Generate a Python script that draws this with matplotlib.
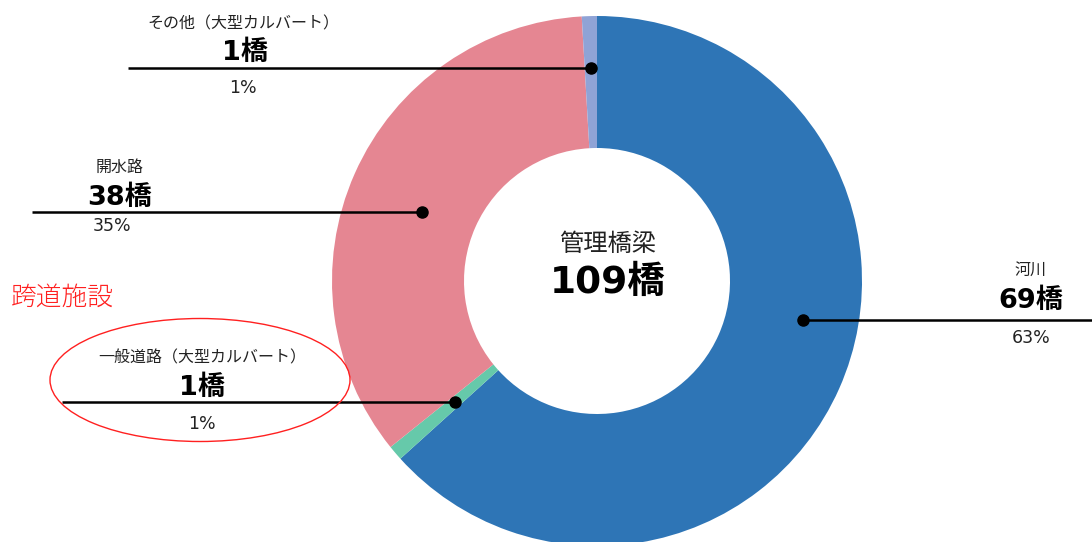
import numpy as np
import matplotlib
matplotlib.use("Agg")
import matplotlib.pyplot as plt
from matplotlib.patches import Ellipse

plt.rcParams['font.family'] = ['Noto Sans CJK JP', 'DejaVu Sans']
NUM_FONT = ['DejaVu Sans', 'Noto Sans CJK JP']

# ---- data ----
categories = ['河川', '一般道路（大型カルバート）', '開水路', 'その他（大型カルバート）']
counts = [69, 1, 38, 1]
percents = ['63%', '1%', '35%', '1%']
total_label = '管理橋梁'
total_unit = '橋'
colors = ['#2E75B6', '#66C9AA', '#E58692', '#8FA3D6']

W, H = 1092, 542
fig = plt.figure(figsize=(W / 100, H / 100), dpi=100)
ax = fig.add_axes([0, 0, 1, 1])
ax.set_xlim(0, W)
ax.set_ylim(0, H)
ax.set_aspect('equal')
ax.axis('off')

def py(y):  # pixel row -> data y
    return H - y

cx, cy = 597, py(281)
R, r_in = 265, 133

wedges, _ = ax.pie(counts, colors=colors, startangle=90, counterclock=False,
                   radius=R, center=(cx, cy),
                   wedgeprops=dict(width=R - r_in, linewidth=0))
ax.set_xlim(0, W)
ax.set_ylim(0, H)

# label layout: (dot angle offset deg, dot radius, line end x, text center x, text rows y)
layout = [
    dict(off=13.2, rad=210, lx=W + 5, tx=1031, ty=(270, 301, 338)),
    dict(off=0.0, rad=187, lx=62, tx=202, ty=(358, 388, 424)),
    dict(off=2.5, rad=188, lx=32, tx=(120, 120, 112), ty=(167, 198, 226)),
    dict(off=0.0, rad=213, lx=128, tx=(243, 245, 243), ty=(24, 53, 88)),
]

for w, cat, n, pct, lay in zip(wedges, categories, counts, percents, layout):
    mid = (w.theta1 + w.theta2) / 2 + lay['off']
    a = np.deg2rad(mid)
    dx = cx + lay['rad'] * np.cos(a)
    dy = cy + lay['rad'] * np.sin(a)
    ax.plot([dx, lay['lx']], [dy, dy], color='black', lw=1.8, zorder=5,
            solid_capstyle='butt', clip_on=False)
    ax.plot(dx, dy, 'o', color='black', ms=8, zorder=6)
    tx = lay['tx'] if isinstance(lay['tx'], tuple) else (lay['tx'],) * 3
    ty = lay['ty']
    ax.text(tx[0], py(ty[0]), cat, ha='center', va='center', fontsize=11.5, color='#222222')
    ax.text(tx[1], py(ty[1]), f'{n}{total_unit}', ha='center', va='center',
            fontsize=19.5, fontweight='bold', color='black', family=NUM_FONT)
    ax.text(tx[2], py(ty[2]), pct, ha='center', va='center', fontsize=12.5,
            color='#222222', family=NUM_FONT)

# center text
ax.text(608, py(244), total_label, ha='center', va='center', fontsize=17.5, color='#222222')
ax.text(608, py(283), f'{sum(counts)}{total_unit}', ha='center', va='center',
        fontsize=27, fontweight='bold', color='black', family=NUM_FONT)

# highlight annotation
ax.text(11, py(297), '跨道施設', ha='left', va='center', fontsize=18.5,
        color='#FF2020', fontweight='light')
ax.add_patch(Ellipse((200, py(380)), 300, 123, fill=False, edgecolor='#FF2020', lw=1.0, zorder=7))

fig.savefig('out.png', dpi=100, facecolor='white')
